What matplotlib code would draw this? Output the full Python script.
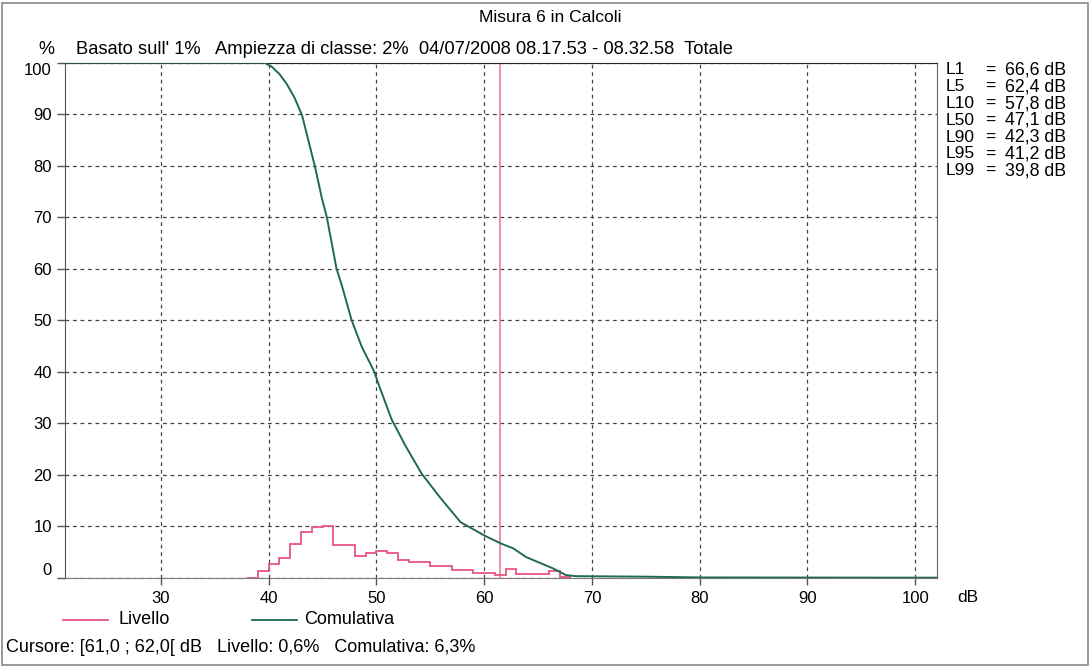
import numpy as np
import matplotlib.pyplot as plt
from matplotlib.lines import Line2D
from matplotlib.patches import Rectangle

plt.rcParams['font.family'] = ['Liberation Sans', 'DejaVu Sans']

# distribuzione per classi di 1 dB (limite inferiore della classe), in %
livello_db = [38, 39, 40, 41, 42, 43, 44, 45, 46, 47,
              48, 49, 50, 51, 52, 53, 54, 55, 56, 57,
              58, 59, 60, 61, 62, 63, 64, 65, 66, 67]
livello_pct = [0.0, 1.3, 2.7, 3.8, 6.5, 8.9, 9.8, 10.0, 6.3, 6.3,
               4.2, 4.8, 5.2, 4.8, 3.5, 3.0, 3.0, 2.3, 2.3, 1.5,
               1.5, 0.9, 0.9, 0.6, 1.7, 0.7, 0.7, 0.7, 1.3, 0.2]

# curva cumulativa
cum_db = [21.1, 39.6, 40.3, 41.0, 41.7, 42.4, 43.1, 44.3, 44.95, 45.4,
          46.3, 46.8, 47.7, 48.65, 49.8, 50.3, 51.4, 52.7, 54.2, 55.9,
          57.8, 60.1, 61.6, 62.7, 63.9, 66.4, 67.6, 68.5, 75.0, 80.0, 102.0]
cum_pct = [100, 100, 99.2, 97.8, 95.8, 93.2, 89.8, 79.8, 73.6, 70.0,
           60.0, 56.7, 50.0, 44.8, 40.0, 37.0, 30.8, 25.6, 20.2, 15.6,
           10.8, 8.1, 6.6, 5.7, 4.0, 1.8, 0.5, 0.3, 0.2, 0.05, 0.0]

cursore = 61.5

percentili = ['L1', 'L5', 'L10', 'L50', 'L90', 'L95', 'L99']
valori_perc = ['66,6 dB', '62,4 dB', '57,8 dB', '47,1 dB', '42,3 dB', '41,2 dB', '39,8 dB']

pink = '#e8557f'
green = '#1e6a52'

fig = plt.figure(figsize=(10.92, 6.68), dpi=100)
W, H = 1092, 668
ax = fig.add_axes([65 / W, 1 - 577.7 / H, (936.7 - 65) / W, (577.7 - 62.7) / H])

edges = livello_db + [livello_db[-1] + 1]
ax.stairs(livello_pct, edges, color=pink, linewidth=1.3, zorder=3)
ax.plot(cum_db, cum_pct, color=green, linewidth=1.4, zorder=4)
ax.axvline(cursore, color='#ee86a0', linewidth=1.3, zorder=2)

ax.set_xlim(21.1, 102.0)
ax.set_ylim(0, 100)
ax.set_xticks(range(30, 101, 10))
ax.set_yticks(range(0, 101, 10))
ax.grid(True, linestyle=(0, (3, 3)), color='#444444', linewidth=0.9)
ax.tick_params(axis='y', direction='out', length=6, width=1, color='#555555',
               labelsize=12, pad=3.5)
ax.tick_params(axis='x', direction='out', length=5, width=1, color='#555555',
               labelsize=12, pad=4.7)
ax.spines['left'].set_color('#555555')
ax.spines['bottom'].set_color('#777777')
ax.spines['top'].set_color('#222222')
ax.spines['right'].set_color('#666666')

ylabels = ax.get_yticklabels()
ylabels[0].set_va('bottom')
ylabels[-1].set_va('top')

fig.text(0.504, 1 - 17 / H, 'Misura 6 in Calcoli', ha='center', va='center', fontsize=12.5)
fig.text(46 / W, 1 - 50 / H, '%', ha='center', va='center', fontsize=13)
fig.text(76 / W, 1 - 50 / H,
         "Basato sull' 1%   Ampiezza di classe: 2%  04/07/2008 08.17.53 - 08.32.58  Totale",
         ha='left', va='center', fontsize=13.2)
fig.text(957 / W, 1 - 597 / H, 'dB', ha='left', va='center', fontsize=12.5)

for i, (nome, val) in enumerate(zip(percentili, valori_perc)):
    y = 1 - (70 + i * 16.8) / H
    fig.text(946 / W, y, nome, ha='left', va='center', fontsize=12.5)
    fig.text(985 / W, y, '=', ha='left', va='center', fontsize=12.5)
    fig.text(1005 / W, y, val, ha='left', va='center', fontsize=12.8)

# legenda
ly = 1 - 620 / H
fig.add_artist(Line2D([63 / W, 108 / W], [ly, ly], color=pink, linewidth=1.3))
fig.text(118 / W, ly, 'Livello', ha='left', va='center', fontsize=13)
fig.add_artist(Line2D([252 / W, 297 / W], [ly, ly], color=green, linewidth=1.3))
fig.text(304 / W, ly, 'Comulativa', ha='left', va='center', fontsize=13)

fig.text(6 / W, 1 - 647 / H,
         'Cursore: [61,0 ; 62,0[ dB   Livello: 0,6%   Comulativa: 6,3%',
         ha='left', va='center', fontsize=13)

fig.add_artist(Rectangle((2 / W, 3 / H), 1086 / W, 662 / H, transform=fig.transFigure,
                         fill=False, edgecolor='#888888', linewidth=1.2))

fig.savefig('out.png', dpi=100)
